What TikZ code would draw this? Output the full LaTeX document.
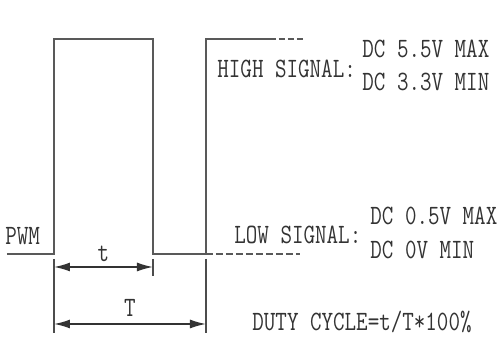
\documentclass[tikz,border=0pt]{standalone}
\usepackage{fontspec}
\usetikzlibrary{arrows.meta, positioning}
\newcommand{\cond}[1]{\scalebox{0.8}[1]{#1}}
\tikzset{
	wave/.style={draw=black!65, line width=1pt},
	ext/.style={draw=black!70, line width=0.8pt},
	dim/.style={draw=black!80, line width=0.8pt, {Latex[length=8pt, width=4.5pt]}-{Latex[length=8pt, width=4.5pt]}},
	lbl/.style={inner sep=0pt, text=black!80, font=\ttfamily\fontsize{14}{16}\selectfont\addfontfeature{FakeBold=0.6}},
}
\begin{document}
\begin{tikzpicture}[x=0.5pt, y=-0.5pt]
	\useasboundingbox (0,0) rectangle (500,340);
	
	% waveform corners
	\coordinate (w0) at (7,254);
	\coordinate (r1b) at (54,254);
	\coordinate (r1t) at (54,39);
	\coordinate (f1t) at (153,39);
	\coordinate (f1b) at (153,254);
	\coordinate (r2b) at (206,254);
	\coordinate (r2t) at (206,39);
	\coordinate (hi) at (270,39);
	\coordinate (hiend) at (305,39);
	\coordinate (loend) at (300,254);
	
	% extension lines
	\coordinate (e1a) at (54,259);
	\coordinate (e1b) at (54,333);
	\coordinate (e2a) at (153,259);
	\coordinate (e2b) at (153,276);
	\coordinate (e3a) at (206,259);
	\coordinate (e3b) at (206,333);
	
	% dimension ends
	\coordinate (ta) at (54,267);
	\coordinate (tb) at (153,267);
	\coordinate (Ta) at (54,324);
	\coordinate (Tb) at (206,324);
	
	\node (pwm) [lbl, anchor=base west] at (5,245) {\cond{PWM}};
	
	\node (high) [lbl, anchor=base west] at (217,78) {\cond{HIGH SIGNAL:}};
	\node (hmax) [lbl, anchor=base west] at (362,58) {\cond{DC 5.5V MAX}};
	\node (hmin) [lbl, anchor=base west] at (362,91) {\cond{DC 3.3V MIN}};
	
	\node (low) [lbl, anchor=base west] at (234,244) {\cond{LOW SIGNAL:}};
	\node (lmax) [lbl, anchor=base west] at (370,225) {\cond{DC 0.5V MAX}};
	\node (lmin) [lbl, anchor=base west] at (370,259) {\cond{DC 0V MIN}};
	
	\node (duty) [lbl, anchor=base west] at (252,331) {\cond{DUTY CYCLE=t/T*100\%}};
	
	\draw[wave] (w0) -- (r1b) -- (r1t) -- (f1t) -- (f1b) -- (r2b) -- (r2t) -- (hi);
	\draw[wave, dash pattern=on 3pt off 1.5pt] (hi) -- (hiend);
	\draw[wave, dash pattern=on 3.5pt off 1.5pt] (r2b) -- (loend);
	
	\draw[ext] (e1a) -- (e1b);
	\draw[ext] (e2a) -- (e2b);
	\draw[ext] (e3a) -- (e3b);
	
	\draw[dim] (ta) -- (tb) node (tlbl) [lbl, midway, above=2.5pt] {\cond{t}};
	\draw[dim] (Ta) -- (Tb) node (Tlbl) [lbl, midway, above=3.5pt] {\cond{T}};
	
\end{tikzpicture}
\end{document}
